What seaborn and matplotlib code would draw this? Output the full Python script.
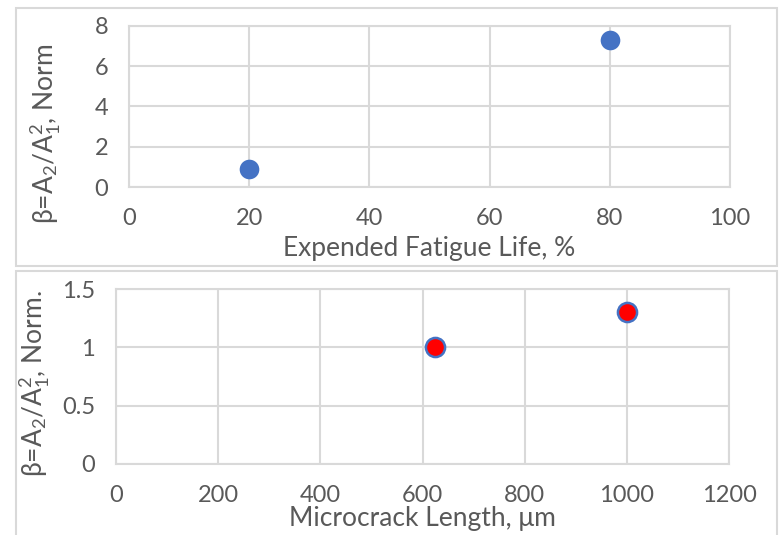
import matplotlib
matplotlib.use('Agg')
import matplotlib.pyplot as plt
import seaborn as sns
import pandas as pd
from matplotlib.patches import Rectangle

# data
life_pct = [20, 80]
beta_life = [0.9, 7.3]
crack_len = [625, 1000]
beta_crack = [1.0, 1.3]

life_ticks = [0, 20, 40, 60, 80, 100]
life_yticks = [0, 2, 4, 6, 8]
crack_ticks = [0, 200, 400, 600, 800, 1000, 1200]
crack_yticks = [0, 0.5, 1, 1.5]
crack_yticklabels = ['0', '0.5', '1', '1.5']

sns.set_theme(style='whitegrid')
plt.rcParams['font.family'] = ['Lato', 'DejaVu Sans']
plt.rcParams['mathtext.default'] = 'regular'

TXT = '#595959'
GRID = '#D9D9D9'
TICK_FS = 17
LAB_FS = 19

fig = plt.figure(figsize=(7.82, 5.35), dpi=100)
W, H = 782, 535


def px_axes(l, t, r, b):
    return fig.add_axes([l / W, 1 - b / H, (r - l) / W, (b - t) / H])


def style(ax):
    ax.set_facecolor('white')
    ax.grid(True, color=GRID, linewidth=1.5)
    for s in ax.spines.values():
        s.set_color(GRID)
        s.set_linewidth(1.5)
    ax.tick_params(axis='both', length=0, labelsize=TICK_FS, labelcolor=TXT, pad=15)
    ax.set_axisbelow(True)


# chart area frames
fig.patches.append(Rectangle((16 / W, 1 - 266 / H), 761 / W, 258 / H,
                             transform=fig.transFigure, fill=False,
                             edgecolor='#D9D9D9', linewidth=1.5))
fig.patches.append(Rectangle((16 / W, 1 - 545 / H), 761 / W, 274 / H,
                             transform=fig.transFigure, fill=False,
                             edgecolor='#D9D9D9', linewidth=1.5))

# top chart: beta vs expended fatigue life
ax1 = px_axes(129, 26, 730, 187)
df1 = pd.DataFrame({'life': life_pct, 'beta': beta_life})
sns.scatterplot(data=df1, x='life', y='beta', ax=ax1, s=200, color='#4472C4',
                edgecolor='#4472C4', linewidth=0, zorder=3)
ax1.set_xlim(0, 100)
ax1.set_ylim(0, 8)
ax1.set_xticks(life_ticks)
ax1.set_yticks(life_yticks)
style(ax1)
ax1.set_xlabel('Expended Fatigue Life, %', fontsize=LAB_FS, color=TXT, labelpad=5)
ax1.set_ylabel(r'β=A$_2$/A$_1^2$, Norm', fontsize=LAB_FS, color=TXT)
ax1.yaxis.set_label_coords(-0.11, 0.33)

# bottom chart: beta vs microcrack length
ax2 = px_axes(116, 289, 729, 464)
df2 = pd.DataFrame({'length': crack_len, 'beta': beta_crack})
sns.scatterplot(data=df2, x='length', y='beta', ax=ax2, s=190, color='#FF0000',
                edgecolor='#4472C4', linewidth=1.8, zorder=3)
ax2.set_xlim(0, 1200)
ax2.set_ylim(0, 1.5)
ax2.set_xticks(crack_ticks)
ax2.set_yticks(crack_yticks)
ax2.set_yticklabels(crack_yticklabels)
style(ax2)
ax2.set_xlabel('Microcrack Length, μm', fontsize=LAB_FS, color=TXT, labelpad=0)
ax2.set_ylabel(r'β=A$_2$/A$_1^2$, Norm.', fontsize=LAB_FS, color=TXT)
ax2.yaxis.set_label_coords(-0.104, 0.457)

fig.savefig('out.png', dpi=100)
